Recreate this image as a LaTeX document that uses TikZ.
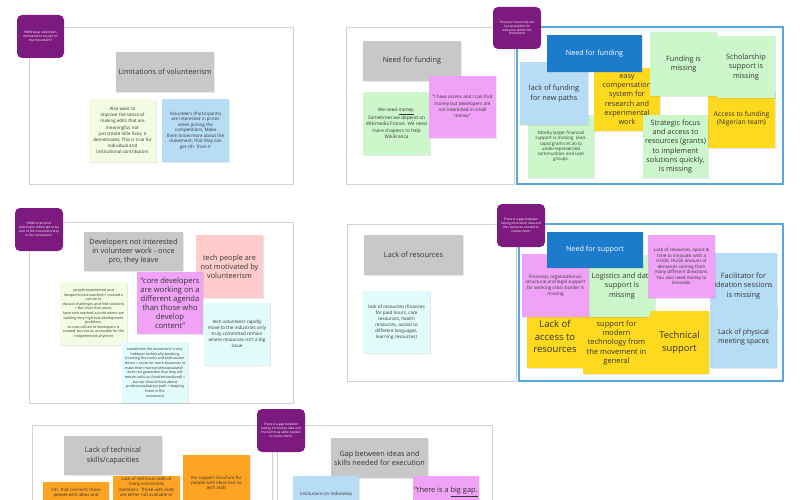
\documentclass[tikz,border=0pt]{standalone}
\usepackage{fontspec}
\setmainfont{Open Sans}
\usetikzlibrary{shadows}
\definecolor{cGray}{HTML}{C8C8C8}
\definecolor{cFrame}{HTML}{D2D2D2}
\definecolor{cPurple}{HTML}{7D1A80}
\definecolor{cPale}{HTML}{F3FBE2}
\definecolor{cLBlue}{HTML}{B6DCF6}
\definecolor{cGreen}{HTML}{CCF7CA}
\definecolor{cPink}{HTML}{F0A2F6}
\definecolor{cYellow}{HTML}{FFD91E}
\definecolor{cDBlue}{HTML}{1C7CCB}
\definecolor{cSalmon}{HTML}{FFCBCB}
\definecolor{cCyan}{HTML}{E2FBFB}
\definecolor{cOrange}{HTML}{FFA322}
\definecolor{cBFrame}{HTML}{5AA8E2}
\definecolor{cText}{HTML}{333333}
\newcommand\fsz[2]{\fontsize{#1pt}{#2pt}\selectfont}
\newcommand\boxnode[7]{\node[#6,minimum width={#4-#2},minimum height={#5-#3}] (#1) at ({(#2+#4)/2},{(#3+#5)/2}) {#7};}
\tikzset{
  stk/.style={rectangle, inner sep=0pt, align=center, text=cText,
    drop shadow={shadow xshift=0.5pt, shadow yshift=-0.7pt, opacity=0.18}},
  frame/.style={draw=cFrame, line width=0.9pt, fill=white},
  bframe/.style={draw=cBFrame, line width=1.2pt},
  hmw/.style={rectangle, rounded corners=5pt, fill=cPurple, text=white, align=center, inner sep=0pt, font=\fsz{3.2}{3.8}},
  big/.style={font=\fsz{7.3}{9.2}},
  med/.style={font=\fsz{4.6}{5.8}},
  sm/.style={font=\fsz{3.6}{4.6}},
  txt/.style={inner sep=0pt, align=center, text=cText},
}
\begin{document}
\begin{tikzpicture}[x=1pt,y=-1pt]
\useasboundingbox (0,0) rectangle (800,500);
\clip (0,0) rectangle (800,500);
\fill[white] (0,0) rectangle (800,500);

% ---------- top-left panel
\draw[frame] (29,27) rectangle (293,184);
\boxnode{hmwA}{17}{15}{64}{58}{hmw}{HMW keep volunteers\\motivated to be part of\\the movement?}
\boxnode{lim}{116}{52}{214}{92}{stk,fill=cGray,big}{Limitations of volunteerism}
\boxnode{also}{89}{99}{156}{162}{stk,fill=cPale,font=\fsz{4.5}{6.2}}{Also want to\\improve the sense of\\making edits that are\\meaningful, not\\just create little fixes; it\\demotivates; This is true for\\individual and\\institutional contributors}
\boxnode{volp}{162}{99}{229}{162}{stk,fill=cLBlue,font=\fsz{4.5}{5.5}}{Volunteers (Participants)\\are interested in prices\\when joining the\\competitions, Make\\them know more about the\\movement; that they can\\get sth. from it}

% ---------- top-middle panel
\draw[frame] (346,27) rectangle (514,184);
\boxnode{nff}{363}{41}{461}{81}{stk,fill=cGray,big}{Need for funding}
\boxnode{wen}{363}{92}{430}{155}{stk,fill=cGreen,font=\fsz{4.7}{6.3}}{We need \underline{money}.\\Sometimes we depend on\\Wikimedia France. We need\\more chapters to help\\WikiFranca}
\boxnode{iha}{429}{76}{496}{138}{stk,fill=cPink,font=\fsz{4.6}{6.2}}{“I have access and I can find\\money but developers are\\not interested in small\\money”}

% ---------- top-right panel
\draw[bframe] (517,27) rectangle (783,184);
\boxnode{hmwB}{493}{7}{541}{49}{hmw}{Financial resources are\\not accessible for\\everyone within the\\movement}
\boxnode{most}{528}{115}{594}{178}{stk,fill=cGreen,font=\fsz{4.5}{5.3}}{Mostly larger financial\\support is missing\ \ (excl.\\rapid grants et al) to\\underrepresented\\communities and user\\groups.}
\boxnode{lfn}{520}{62}{588}{125}{stk,fill=cLBlue,big}{lack of funding\\for new paths}
\boxnode{easy}{594}{68}{660}{131}{stk,fill=cYellow,big}{easy\\compensation\\system for\\research and\\experimental\\work}
\boxnode{nffb}{547}{35}{642}{72}{stk,fill=cDBlue,text=white,font=\fsz{7.2}{9}}{Need for funding}
\boxnode{acf}{708}{90}{775}{148}{stk,fill=cYellow,font=\fsz{6.8}{8.4}}{Access to funding\\(Nigerian team)}
\boxnode{fim}{650}{32}{717}{96}{stk,fill=cGreen,big}{Funding is\\missing}
\boxnode{sch}{717}{36}{775}{98}{stk,fill=cGreen,big}{Scholarship\\support is\\missing}
\boxnode{stf}{643}{115}{708}{178}{stk,fill=cGreen,big}{Strategic focus\\and access to\\resources (grants)\\to implement\\solutions quickly,\\is missing}

% ---------- middle-left panel
\draw[frame] (29,222) rectangle (293,403);
\boxnode{hmwC}{15}{208}{63}{251}{hmw}{HMW incentivise\\technically skilled ppl to be\\part of the movement/stay\\in the movement?}
\boxnode{dev}{84}{232}{183}{271}{stk,fill=cGray,big}{Developers not interested\\in volunteer work - once\\pro, they leave}
\boxnode{tpa}{196}{235}{263}{298}{stk,fill=cSalmon,big}{tech people are\\not motivated by\\volunteerism}
\boxnode{core}{137}{272}{203}{334}{stk,fill=cPink,font=\fsz{7.6}{9.1}}{“core developers\\are working on a\\different agenda\\than those who\\develop\\content”}
\boxnode{pex}{60}{282}{127}{345}{stk,fill=cPale,sm}{people experienced and\\inexperienced matched = created a\\culture to\\discuss challenges and find solutions\\= But issue that arose:\\have now reached a point where are\\tackling Very high end development\\problems,\\so now culture of developers is\\created, but not as accessible for the\\inexperienced anymore}
\boxnode{tvr}{204}{303}{270}{365}{stk,fill=cCyan,font=\fsz{4.6}{6}}{tech volunteers rapidly\\move to the industries only\\truly committed remain\\where resources isn't a big\\issue}
\boxnode{som}{122}{342}{188}{403}{stk,fill=cCyan,font=\fsz{3.6}{4.7}}{sometimes the movement is very\\hobbyist technically speaking\\(creating the tools) and enthusiasm\\driven = room for more resources to\\make them more professionalized! -\\does not guarantee that they will\\remain with us if professionalized) =\\but we should think about\\professionalization path + keeping\\them in the\\movement}

% ---------- middle-right panels
\draw[frame] (347,224) rectangle (516,381);
\boxnode{lor}{364}{235}{463}{275}{stk,fill=cGray,big}{Lack of resources}
\boxnode{lrc}{363}{291}{430}{353}{stk,fill=cCyan,font=\fsz{4.6}{6}}{lack of resources (finances\\for paid hours, care\\resources, health\\resources, access to\\different languages,\\learning resources)}
\draw[bframe] (519,224) rectangle (783,381);
\boxnode{hmwD}{497}{204}{545}{247}{hmw}{There is a gap between\\having innovation idea and\\the resources needed to\\realise them.}
\boxnode{acc}{527}{305}{583}{368}{stk,fill=cYellow,font=\fsz{9.5}{12.4}}{Lack of\\access to\\resources}
\boxnode{mod}{583}{312}{650}{374}{stk,fill=cYellow,font=\fsz{7.5}{9.3}}{support for\\modern\\technology from\\the movement in\\general}
\boxnode{logi}{589}{255}{655}{317}{stk,fill=cGreen,big}{Logistics and data\\support is\\missing}
\boxnode{tec}{650}{311}{709}{374}{stk,fill=cYellow,font=\fsz{9.4}{12.6}}{Technical\\support}
\boxnode{fin}{522}{254}{589}{317}{stk,fill=cPink,font=\fsz{4.6}{5.7}}{Financial, organizational,\\structural and legal support\\for working cross border is\\missing}
\boxnode{nfs}{547}{232}{643}{268}{stk,fill=cDBlue,text=white,font=\fsz{7.2}{9}}{Need for support}
\boxnode{fac}{710}{253}{777}{319}{stk,fill=cLBlue,big}{Facilitator for\\ideation sessions\\is missing}
\boxnode{phy}{710}{306}{777}{368}{stk,fill=cLBlue,font=\fsz{7}{9}}{Lack of physical\\meeting spaces}
\boxnode{lrs}{648}{235}{715}{298}{stk,fill=cPink,font=\fsz{4.5}{5.5}}{Lack of resources, space \&\\time to innovate, with a\\HUGE, HUGE amount of\\demands coming from\\many different directions.\\You also need money to\\innovate.}

% ---------- bottom panels
\draw[frame] (32,425) rectangle (272,520);
\draw[frame] (277,425) rectangle (492,520);
\boxnode{hmwE}{257}{409}{305}{452}{hmw}{There is a gap between\\having innovative idea and\\the technical skills needed\\to realise them.}
\boxnode{lts}{64}{436}{162}{475}{stk,fill=cGray,big}{Lack of technical\\skills/capacities}
\boxnode{ofi}{43}{482}{109}{545}{stk,fill=cOrange}{}
\node[txt,font=\fsz{4.4}{5.3},anchor=north] (tofi) at (ofi.north |- 0,488) {5th. that connects those\\people with ideas and};
\boxnode{olt}{113}{476}{180}{540}{stk,fill=cOrange}{}
\node[txt,font=\fsz{4.4}{5.3},anchor=north] (tolt) at (olt.north |- 0,477) {Lack of technical skills of\\many community\\members. Those with skills\\are either not available or};
\boxnode{ons}{183}{455}{250}{511}{stk,fill=cOrange,font=\fsz{4.4}{5.3}}{No support structure for\\people with ideas but no\\tech skills}
\boxnode{gap}{331}{438}{428}{478}{stk,fill=cGray,big}{Gap between ideas and\\skills needed for execution}
\boxnode{ins}{293}{476}{359}{540}{stk,fill=cLBlue}{}
\node[txt,font=\fsz{4.4}{5.3},anchor=north] (tins) at (ins.north |- 0,492) {Institutions (in Indonesia)};
\boxnode{bgp}{413}{476}{479}{540}{stk,fill=cPink}{}
\node[txt,font=\fsz{7.4}{9.2},anchor=north] (tbgp) at (bgp.north |- 0,487) {“there is a \underline{big gap.}};
\end{tikzpicture}
\end{document}
